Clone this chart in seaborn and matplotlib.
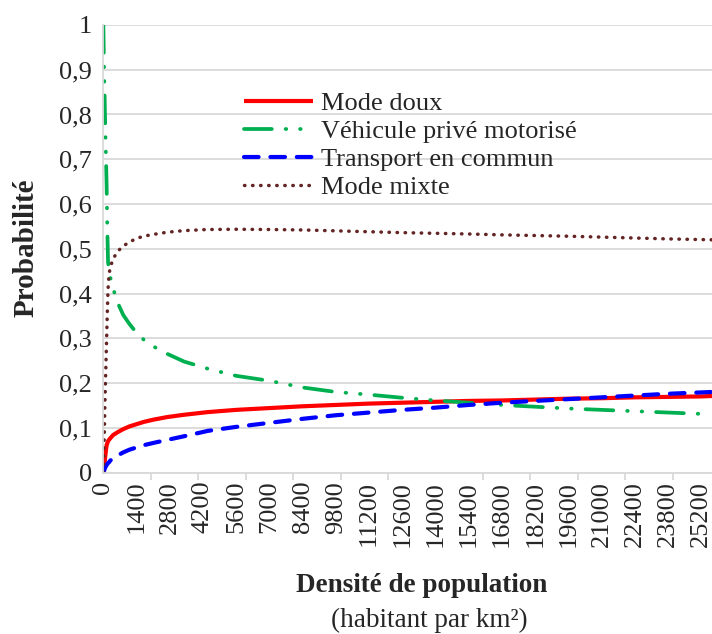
import numpy as np
import pandas as pd
import matplotlib
matplotlib.use('Agg')
import matplotlib.pyplot as plt
import seaborn as sns
from matplotlib.ticker import MultipleLocator, FuncFormatter

# densite (habitant par km2)
densite = [0, 40, 70, 110, 140, 170, 200, 240, 300, 420, 600, 840, 1100, 1400,
           1700, 2100, 2700, 3400, 4400, 5600, 7000, 8400, 9800, 11200, 12600,
           14000, 15400, 16800, 18200, 19600, 21000, 22400, 23800, 25200, 25650]

mode_doux = [0, 0.013, 0.03, 0.05, 0.061, 0.066, 0.07, 0.073, 0.077, 0.084, 0.09,
             0.097, 0.103, 0.108, 0.113, 0.118, 0.124, 0.129, 0.135, 0.140, 0.144,
             0.148, 0.151, 0.154, 0.156, 0.158, 0.160, 0.161, 0.163, 0.165, 0.166,
             0.168, 0.169, 0.170, 0.171]

vehicule = [1.0, 0.88, 0.80, 0.71, 0.64, 0.54, 0.47, 0.45, 0.435, 0.41, 0.38,
            0.352, 0.332, 0.312, 0.297, 0.282, 0.265, 0.248, 0.232, 0.216, 0.205,
            0.19, 0.180, 0.174, 0.167, 0.161, 0.156, 0.151, 0.147, 0.143, 0.140,
            0.137, 0.134, 0.131, 0.130]

transport = [0, 0.005, 0.01, 0.014, 0.017, 0.019, 0.021, 0.023, 0.027, 0.032,
             0.038, 0.045, 0.051, 0.056, 0.061, 0.066, 0.073, 0.081, 0.093, 0.102,
             0.111, 0.12, 0.128, 0.134, 0.14, 0.145, 0.151, 0.156, 0.160, 0.164,
             0.168, 0.172, 0.176, 0.179, 0.180]

mixte = [0, 0.08, 0.16, 0.24, 0.30, 0.36, 0.41, 0.443, 0.46, 0.478, 0.494, 0.506,
         0.515, 0.523, 0.528, 0.532, 0.537, 0.5405, 0.543, 0.5435, 0.543, 0.542,
         0.540, 0.538, 0.536, 0.5345, 0.533, 0.531, 0.5295, 0.528, 0.526, 0.524,
         0.522, 0.5205, 0.520]

noms = ['Mode doux', 'Véhicule privé motorisé', 'Transport en commun', 'Mode mixte']

sns.set_style('white')
plt.rcParams['font.family'] = ['Liberation Serif', 'DejaVu Serif']
plt.rcParams['lines.scale_dashes'] = False

fig = plt.figure(figsize=(7.12, 6.34), dpi=100)
ax = fig.add_axes([0.1451, 0.2547, 0.8549, 0.7059])

series = [
    (mode_doux, '#FF0000', 3.0, '-', 'butt'),
    (vehicule, '#00B050', 2.7, (0, (20, 10, 0.4, 10, 0.4, 10)), 'round'),
    (transport, '#0000FF', 3.0, (0, (10.5, 8.5)), 'round'),
    (mixte, '#632523', 2.5, (0, (0.3, 5.5)), 'round'),
]
for (vals, col, lw, ls, cap), nom in zip(series, noms):
    sns.lineplot(x=densite, y=vals, ax=ax, color=col, linewidth=lw, label=nom)
    ln = ax.lines[-1]
    ln.set_linestyle(ls)
    ln.set_dash_capstyle(cap)
    ln.set_solid_capstyle('butt')

ax.set_xlim(0, 25650)
ax.set_ylim(0, 1)
ax.yaxis.set_major_locator(MultipleLocator(0.1))
ax.yaxis.set_major_formatter(FuncFormatter(
    lambda v, p: '0' if abs(v) < 1e-9 else ('1' if abs(v - 1) < 1e-9 else f'{v:.1f}'.replace('.', ','))))
ax.xaxis.set_major_locator(MultipleLocator(1400))
ax.xaxis.set_minor_locator(MultipleLocator(2000))
ax.xaxis.set_major_formatter(FuncFormatter(lambda v, p: f'{int(round(v))}'))

ax.grid(axis='y', color='#d9d9d9', linewidth=1.3)
ax.set_axisbelow(True)
for s in ['top', 'right']:
    ax.spines[s].set_visible(False)
for s in ['left', 'bottom']:
    ax.spines[s].set_color('#d9d9d9')
    ax.spines[s].set_linewidth(1.3)

ax.tick_params(axis='y', length=5, width=1.3, color='#d9d9d9', labelsize=19, pad=3)
ax.tick_params(axis='x', which='major', length=0, labelsize=19, labelrotation=90, pad=6)
ax.tick_params(axis='x', which='minor', length=5, width=1.3, color='#d9d9d9', bottom=True)
ax.set_xlabel('')
ax.set_ylabel('')

fig.text(0.036, 0.609, 'Probabilité', rotation=90, ha='center', va='center',
         fontsize=21, fontweight='bold')
fig.text(0.592, 0.077, 'Densité de population', ha='center', va='center',
         fontsize=19.5, fontweight='bold')
fig.text(0.603, 0.021, '(habitant par km²)', ha='center', va='center', fontsize=19.5)

leg = ax.legend(loc='upper left', bbox_to_anchor=(0.342, 0.855), bbox_transform=fig.transFigure,
                frameon=False, fontsize=19, handlelength=2.65, handletextpad=0.3,
                labelspacing=0.17, borderpad=0, borderaxespad=0)

fig.savefig('out.png', dpi=100)
